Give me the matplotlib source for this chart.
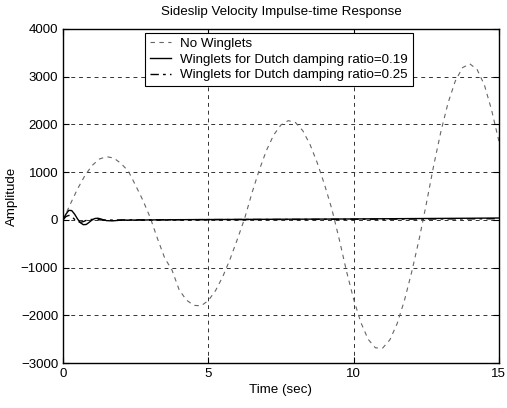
# import packages
import numpy as np
import matplotlib
matplotlib.use('Agg')
import matplotlib.pyplot as plt

plt.rcParams['font.family'] = ['Liberation Sans', 'DejaVu Sans']

# data
t_nw = np.arange(0, 15.01, 0.25)
no_winglets = [
    0, 330, 650, 925, 1140, 1275, 1325, 1295, 1180, 1020, 720, 410,
    50, -390, -800, -1050, -1470, -1680, -1790, -1800, -1690, -1480, -1185, -820,
    -405, 30, 560, 1040, 1455, 1780, 1990, 2080, 2040, 1870, 1580, 1195,
    740, 230, -390, -1060, -1660, -2150, -2500, -2680, -2685, -2510, -2170, -1685,
    -1090, -420, 330, 1120, 1840, 2450, 2910, 3190, 3270, 3150, 2830, 2300,
    1650,
]

t_w = [0, 0.1, 0.2, 0.3, 0.4, 0.5, 0.6, 0.7, 0.8, 0.9, 1.0, 1.1, 1.2, 1.3,
       1.4, 1.5, 1.7, 2.0, 3.0, 4.0, 5.0, 6.0, 8.0, 10.0, 12.0, 14.0, 15.0]
winglets_019 = [0, 120, 200, 195, 120, 20, -60, -100, -95, -50, 0, 30, 35, 20,
                0, -15, -20, -5, 0, 5, 8, 10, 15, 20, 28, 35, 40]
winglets_025 = [0, 70, 95, 70, 10, -35, -50, -35, -10, 5, 10, 8, 5, 0,
                -3, -5, -3, 0, 2, 4, 6, 8, 10, 14, 18, 22, 25]

x_ticks = [0, 5, 10, 15]
y_ticks = [-3000, -2000, -1000, 0, 1000, 2000, 3000, 4000]

# create figure
fig = plt.figure(figsize=(5.07, 4.08), dpi=100)
ax = fig.add_axes([0.1243, 0.110, 0.8597, 0.819])

# curves
ax.plot(t_nw, no_winglets, color='0.4', lw=0.8, linestyle=(0, (4, 4)),
        label='No Winglets')
ax.plot(t_w, winglets_019, color='black', lw=1.0, label='Winglets for Dutch damping ratio=0.19')
ax.plot(t_w, winglets_025, color='black', lw=1.0, linestyle=(0, (6, 3, 2, 3)),
        label='Winglets for Dutch damping ratio=0.25')

# axes
ax.set_xlim(0, 15)
ax.set_ylim(-3000, 4000)
ax.set_xticks(x_ticks)
ax.set_yticks(y_ticks)
ax.tick_params(direction='in', length=4, top=True, right=True, labelsize=9.5)
ax.grid(True, color='0.2', linestyle=(0, (4, 4)), lw=0.7)
for s in ax.spines.values():
    s.set_linewidth(1.0)

# titles
ax.set_title('Sideslip Velocity Impulse-time Response', fontsize=9.6, pad=10)
ax.set_xlabel('Time (sec)', fontsize=9.6, labelpad=3)
ax.set_ylabel('Amplitude', fontsize=9.6, labelpad=2)

# legend
leg = ax.legend(loc='upper left', bbox_to_anchor=(0.188, 0.988), borderaxespad=0,
                fontsize=9.6, fancybox=False, framealpha=1, edgecolor='black',
                labelspacing=0.25, handlelength=1.6, handletextpad=0.7, borderpad=0.35)
leg.get_frame().set_linewidth(0.8)

fig.savefig('out.png', dpi=100)
